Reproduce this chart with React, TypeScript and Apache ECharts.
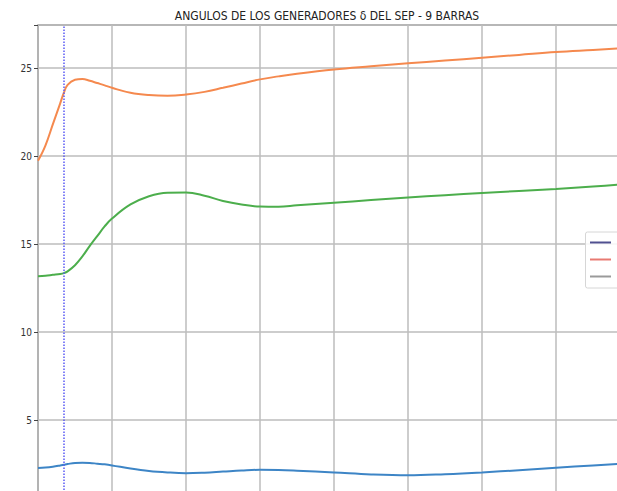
import React, { useEffect, useRef } from "react";
import * as echarts from "echarts";

// time axis (arbitrary units: one grid division = 1)
const time = [0, 0.1, 0.2, 0.3, 0.35, 0.4, 0.5, 0.6, 0.7, 0.8, 0.9, 1.0, 1.25, 1.5, 1.75, 2.0, 2.25, 2.5, 2.75, 3.0, 3.25, 3.5, 4.0, 4.5, 5.0, 5.5, 6.0, 6.5, 7.0, 7.5, 8.0];
const delta1 = [2.27, 2.3, 2.35, 2.42, 2.46, 2.5, 2.56, 2.57, 2.56, 2.52, 2.48, 2.42, 2.24, 2.1, 2.02, 1.98, 2.01, 2.07, 2.13, 2.17, 2.16, 2.12, 2.02, 1.91, 1.86, 1.92, 2.02, 2.15, 2.29, 2.42, 2.55];
const delta2 = [19.73, 20.6, 21.8, 23.0, 23.6, 24.05, 24.34, 24.38, 24.28, 24.15, 24.02, 23.88, 23.6, 23.47, 23.43, 23.5, 23.65, 23.88, 24.12, 24.36, 24.53, 24.68, 24.92, 25.1, 25.27, 25.43, 25.59, 25.75, 25.91, 26.03, 26.15];
const delta3 = [13.17, 13.2, 13.25, 13.3, 13.35, 13.45, 13.8, 14.3, 14.9, 15.45, 16.0, 16.45, 17.25, 17.72, 17.92, 17.93, 17.75, 17.45, 17.25, 17.13, 17.12, 17.2, 17.35, 17.5, 17.65, 17.78, 17.9, 18.02, 18.13, 18.27, 18.42];
const faultTime = 0.35;
const seriesNames = ["δ1", "δ2", "δ3"];
const titleText = "ANGULOS DE LOS GENERADORES δ DEL SEP - 9 BARRAS";

const pairs = (ys: number[]) => time.map((t, i) => [t, ys[i]]);

export default function App() {
  const ref = useRef<HTMLDivElement>(null);
  useEffect(() => {
    if (!ref.current) return;
    const chart = echarts.init(ref.current, undefined, { renderer: "svg" });
    const lineColors = ["#3d85c6", "#f5894e", "#4cae4c"];
    chart.setOption({
      animation: false,
      backgroundColor: "#ffffff",
      title: {
        text: titleText,
        left: 322,
        top: 5,
        textAlign: "center",
        textStyle: {
          fontFamily: "'DejaVu Sans Condensed', 'Liberation Sans Narrow', sans-serif",
          fontSize: 12,
          fontWeight: "normal",
          color: "#222",
        },
      },
      grid: {
        left: 38,
        top: 25,
        right: 0,
        bottom: 0,
        show: true,
        borderColor: "#555",
        borderWidth: 1.2,
        backgroundColor: "#ffffff",
      },
      xAxis: {
        type: "value",
        min: 0,
        max: 8,
        interval: 1,
        axisLine: { show: false },
        axisTick: { show: false },
        axisLabel: { show: false },
        splitLine: { show: true, lineStyle: { color: "#bdbdbd", width: 1.5 } },
      },
      yAxis: {
        type: "value",
        min: 0,
        max: 27.45,
        interval: 5,
        axisLine: { show: false },
        axisTick: { show: true, length: 4, lineStyle: { color: "#444", width: 1 } },
        axisLabel: {
          margin: 6,
          fontSize: 10,
          color: "#333",
          fontFamily: "'DejaVu Sans Condensed', 'Liberation Sans Narrow', sans-serif",
          formatter: (v: number) => (Math.abs(v % 5) < 1e-9 && v > 0 ? String(v) : ""),
        },
        splitLine: { show: true, lineStyle: { color: "#bdbdbd", width: 1.5 } },
      },
      series: [delta1, delta2, delta3].map((d, i) => ({
        name: seriesNames[i],
        type: "line",
        data: pairs(d),
        smooth: 0.4,
        showSymbol: false,
        lineStyle: { color: lineColors[i], width: 2 },
        itemStyle: { color: lineColors[i] },
        z: 3,
        markLine:
          i === 0
            ? {
                silent: true,
                symbol: "none",
                label: { show: false },
                lineStyle: { color: "#5a5af5", type: "dotted", width: 1.5 },
                data: [{ xAxis: faultTime }],
              }
            : undefined,
      })),
      graphic: [
        {
          type: "rect",
          shape: { x: 585.5, y: 232, width: 45, height: 56, r: 2 },
          style: { fill: "rgba(255,255,255,0.85)", stroke: "#d6d6d6", lineWidth: 1 },
          z: 10,
        },
        { type: "line", shape: { x1: 590, y1: 242.5, x2: 611, y2: 242.5 }, style: { stroke: "#505090", lineWidth: 2 }, z: 11 },
        { type: "line", shape: { x1: 590, y1: 259.5, x2: 611, y2: 259.5 }, style: { stroke: "#e87a72", lineWidth: 2 }, z: 11 },
        { type: "line", shape: { x1: 590, y1: 276.5, x2: 611, y2: 276.5 }, style: { stroke: "#9a9a9a", lineWidth: 2 }, z: 11 },
      ],
    });
    return () => chart.dispose();
  }, []);
  return (
    <div
      style={{ position: "fixed", left: 0, top: 0, width: 617, height: 491, overflow: "hidden", background: "#fff" }}
    >
      <div ref={ref} style={{ width: 630, height: 508 }} />
    </div>
  );
}
